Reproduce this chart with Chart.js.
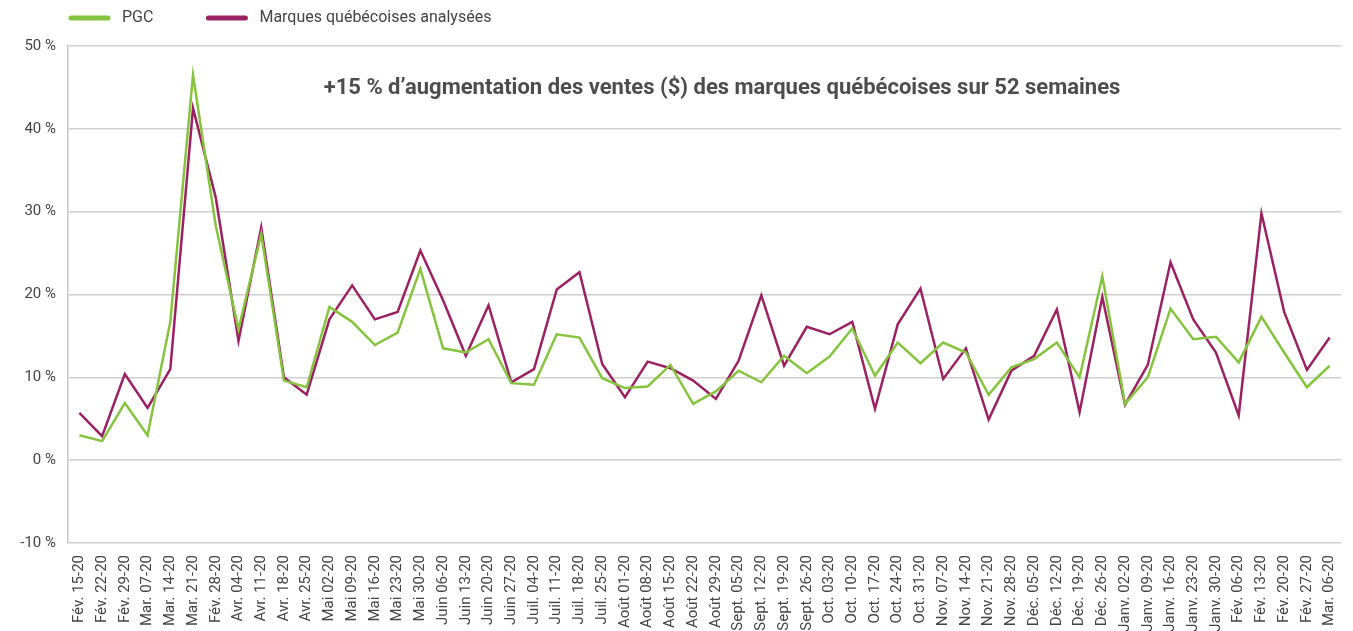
<!DOCTYPE html>
<html lang="fr">
<head>
<meta charset="utf-8">
<title>Ventes hebdomadaires</title>
<script src="https://cdn.jsdelivr.net/npm/chart.js@4/dist/chart.umd.min.js"></script>
<style>
  html, body { margin: 0; padding: 0; background: #fff; }
  #wrap { position: relative; width: 1353px; height: 631px; }
</style>
</head>
<body>
<div id="wrap"><canvas id="chart"></canvas></div>
<script>
// semaines (libellés tels quels sur le graphique)
const semaines = [
  "Fév. 15-20", "Fév. 22-20", "Fév. 29-20", "Mar. 07-20", "Mar. 14-20", "Mar. 21-20",
  "Fév. 28-20", "Avr. 04-20", "Avr. 11-20", "Avr. 18-20", "Avr. 25-20", "Mai 02-20",
  "Mai 09-20", "Mai 16-20", "Mai 23-20", "Mai 30-20", "Juin 06-20", "Juin 13-20",
  "Juin 20-20", "Juin 27-20", "Juil. 04-20", "Juil. 11-20", "Juil. 18-20", "Juil. 25-20",
  "Août 01-20", "Août 08-20", "Août 15-20", "Août 22-20", "Août 29-20", "Sept. 05-20",
  "Sept. 12-20", "Sept. 19-20", "Sept. 26-20", "Oct. 03-20", "Oct. 10-20", "Oct. 17-20",
  "Oct. 24-20", "Oct. 31-20", "Nov. 07-20", "Nov. 14-20", "Nov. 21-20", "Nov. 28-20",
  "Déc. 05-20", "Déc. 12-20", "Déc. 19-20", "Déc. 26-20", "Janv. 02-20", "Janv. 09-20",
  "Janv. 16-20", "Janv. 23-20", "Janv. 30-20", "Fév. 06-20", "Fév. 13-20", "Fév. 20-20",
  "Fév. 27-20", "Mar. 06-20"
];

// variation des ventes en %
const pgc = [
  3.0, 2.3, 6.9, 3.0, 16.7, 46.5, 28.3, 15.8, 27.3, 9.6, 8.8, 18.5,
  16.7, 13.9, 15.4, 23.1, 13.5, 13.0, 14.6, 9.3, 9.1, 15.2, 14.8, 9.9,
  8.7, 8.9, 11.5, 6.8, 8.3, 10.8, 9.4, 12.6, 10.5, 12.5, 15.9, 10.2,
  14.2, 11.7, 14.2, 13.0, 7.9, 11.2, 12.2, 14.2, 10.0, 22.2, 6.8, 10.0,
  18.3, 14.6, 14.9, 11.8, 17.3, 13.0, 8.8, 11.4
];
const marques = [
  5.7, 2.9, 10.4, 6.3, 11.0, 42.5, 31.7, 14.4, 28.1, 10.0, 7.9, 17.0,
  21.1, 17.0, 17.9, 25.3, 19.3, 12.6, 18.7, 9.4, 11.0, 20.6, 22.7, 11.6,
  7.6, 11.9, 11.1, 9.6, 7.4, 12.0, 19.9, 11.4, 16.1, 15.2, 16.7, 6.2,
  16.4, 20.7, 9.8, 13.5, 4.9, 10.8, 12.6, 18.2, 5.8, 19.7, 6.7, 11.5,
  23.9, 17.0, 13.0, 5.4, 29.8, 17.9, 10.9, 14.8
];

const yMin = -10;
const yMax = 50;
const yStep = 10;

const titre = "+15 % d\u2019augmentation des ventes ($) des marques québécoises sur 52 semaines";

const VERT = "#86c33f";
const MAUVE = "#9b2262";
const POLICE = "'Roboto', 'Liberation Sans', sans-serif";

// légende + message dessinés à la main (position fixe en haut à gauche)
const decorPlugin = {
  id: "decor",
  afterDraw(chart) {
    const ctx = chart.ctx;
    const area = chart.chartArea;
    ctx.save();

    // légende
    let x = 71;
    const y = 18;
    ctx.font = "16px " + POLICE;
    ctx.textBaseline = "middle";
    ctx.textAlign = "left";
    chart.data.datasets.forEach((ds) => {
      ctx.strokeStyle = ds.borderColor;
      ctx.lineWidth = 5;
      ctx.lineCap = "round";
      ctx.beginPath();
      ctx.moveTo(x, y);
      ctx.lineTo(x + 37, y);
      ctx.stroke();
      ctx.fillStyle = "#444";
      ctx.fillText(ds.label, x + 51, y);
      x += 51 + ctx.measureText(ds.label).width + 55;
    });

    // message
    ctx.font = "bold 22px " + POLICE;
    ctx.fillStyle = "#4d4d4d";
    ctx.textAlign = "center";
    ctx.fillText(titre, area.left + 654, 88);
    ctx.restore();
  }
};

const ctx = document.getElementById("chart").getContext("2d");
new Chart(ctx, {
  type: "line",
  data: {
    labels: semaines,
    datasets: [
      {
        label: "PGC",
        data: pgc,
        borderColor: VERT,
        backgroundColor: VERT,
        borderWidth: 2.5,
        pointRadius: 0,
        tension: 0,
        fill: false
      },
      {
        label: "Marques québécoises analysées",
        data: marques,
        borderColor: MAUVE,
        backgroundColor: MAUVE,
        borderWidth: 2.5,
        pointRadius: 0,
        tension: 0,
        fill: false
      }
    ]
  },
  options: {
    responsive: true,
    maintainAspectRatio: false,
    animation: false,
    devicePixelRatio: 1,
    layout: { padding: { top: 46, right: 12, left: 0, bottom: 0 } },
    plugins: {
      legend: { display: false },
      tooltip: { enabled: false }
    },
    scales: {
      x: {
        offset: true,
        grid: { display: false },
        border: { display: false },
        ticks: {
          autoSkip: false,
          minRotation: 90,
          maxRotation: 90,
          padding: 4,
          color: "#444",
          font: { family: POLICE, size: 15 }
        },
        afterFit(scale) { scale.height = 88; }
      },
      y: {
        min: yMin,
        max: yMax,
        ticks: {
          stepSize: yStep,
          padding: 12,
          color: "#444",
          font: { family: POLICE, size: 15 },
          callback: (v) => v + " %"
        },
        grid: { color: "#d0d0d0", lineWidth: 1.5, drawTicks: false },
        border: { display: true, color: "#c8c8c8", width: 1.5 },
        afterFit(scale) { scale.width = 68; }
      }
    }
  },
  plugins: [decorPlugin]
});
</script>
</body>
</html>
